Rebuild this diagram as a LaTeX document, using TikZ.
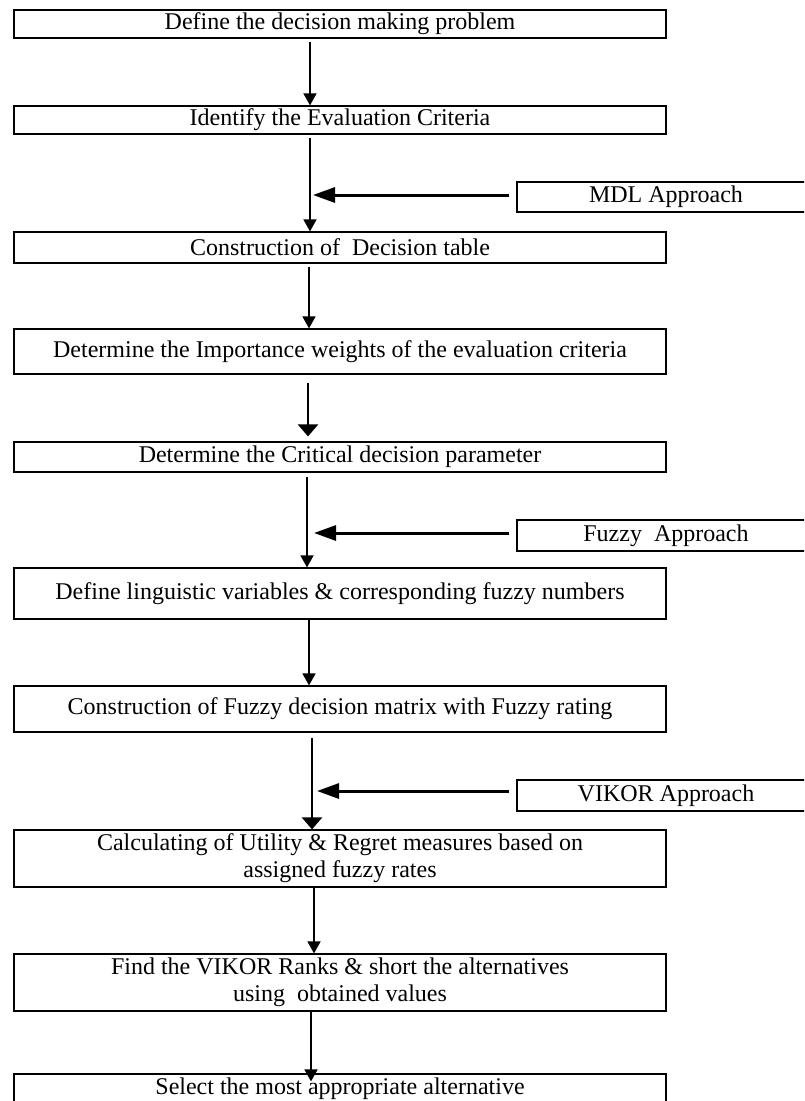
\documentclass[tikz,border=0pt]{standalone}
\usepackage{fontspec}
\setmainfont{Liberation Serif}
\usetikzlibrary{arrows.meta}
\tikzset{
  stepbox/.style={draw,line width=1.2pt,minimum width=652pt,inner sep=0pt,align=center,font=\fontsize{24}{27}\selectfont},
  sidebox/.style={draw,line width=1.2pt,minimum width=298pt,minimum height=30pt,inner sep=0pt,font=\fontsize{24}{27}\selectfont},
  flow/.style={line width=1.5pt,-{Triangle[length=12pt,width=13pt]}},
  bigflow/.style={line width=2.5pt,-{Triangle[length=12pt,width=20pt]}},
  feed/.style={line width=3pt,-{Triangle[length=22pt,width=15pt]}}
}
\begin{document}
\begin{tikzpicture}[x=1pt,y=-1pt]
  \useasboundingbox (0,0) rectangle (804,1101);
  \clip (0,0) rectangle (804,1101);
  \node[stepbox,minimum height=28pt] (define) at (340,24) {Define the decision making problem};
  \node[stepbox,minimum height=28pt] (ident) at (340,120) {Identify the Evaluation Criteria};
  \node[stepbox,minimum height=31pt] (table) at (340,247.5) {Construction of~ Decision table};
  \node[stepbox,minimum height=45pt] (weights) at (340,351.5) {Determine the Importance weights of the evaluation criteria};
  \node[stepbox,minimum height=30pt] (critical) at (340,457) {Determine the Critical decision parameter};
  \node[stepbox,minimum height=51pt] (linguistic) at (340,593.5) {Define linguistic variables \& corresponding fuzzy numbers};
  \node[stepbox,minimum height=46pt] (matrix) at (340,709) {Construction of Fuzzy decision matrix with Fuzzy rating};
  \node[stepbox,minimum height=57pt] (utility) at (340,858.5) {Calculating of Utility \& Regret measures based on\\assigned fuzzy rates};
  \node[stepbox,minimum height=57pt] (ranks) at (340,982.5) {Find the VIKOR Ranks \& short the alternatives\\using~ obtained values};
  \node[stepbox,minimum height=30pt] (select) at (340,1089) {Select the most appropriate alternative};
  \node[sidebox] (mdl) at (666,197) {MDL Approach};
  \node[sidebox,minimum height=31pt] (fuzzy) at (666,535.5) {Fuzzy~ Approach};
  \node[sidebox,minimum height=31pt] (vikor) at (666,795.5) {VIKOR Approach};
  \coordinate (mdltip) at (313,195);
  \coordinate (fuzzytip) at (314,533);
  \coordinate (vikortip) at (317,791);
  \draw[flow] ([xshift=-30pt,yshift=-3pt]define.south) -- ([xshift=-30pt]ident.north);
  \draw[flow] ([xshift=-30pt,yshift=-3pt]ident.south) -- ([xshift=-30pt]table.north);
  \draw[flow] ([xshift=-31pt,yshift=-3pt]table.south) -- ([xshift=-31pt]weights.north);
  \draw[bigflow] ([xshift=-32pt,yshift=-8pt]weights.south) -- ([xshift=-32pt,yshift=5pt]critical.north);
  \draw[flow] ([xshift=-33pt,yshift=-4pt]critical.south) -- ([xshift=-33pt]linguistic.north);
  \draw[flow] ([xshift=-31pt]linguistic.south) -- ([xshift=-31pt]matrix.north);
  \draw[bigflow] ([xshift=-28pt,yshift=-5pt]matrix.south) -- ([xshift=-28pt]utility.north);
  \draw[flow] ([xshift=-26pt]utility.south) -- ([xshift=-26pt]ranks.north);
  \draw[flow] ([xshift=-29pt]ranks.south) -- ([xshift=-29pt,yshift=-8pt]select.north);
  \draw[feed] ([xshift=-7pt,yshift=2pt]mdl.west) -- (mdltip);
  \draw[feed] ([xshift=-7pt,yshift=2.5pt]fuzzy.west) -- (fuzzytip);
  \draw[feed] ([xshift=-7pt,yshift=4.5pt]vikor.west) -- (vikortip);
\end{tikzpicture}
\end{document}
